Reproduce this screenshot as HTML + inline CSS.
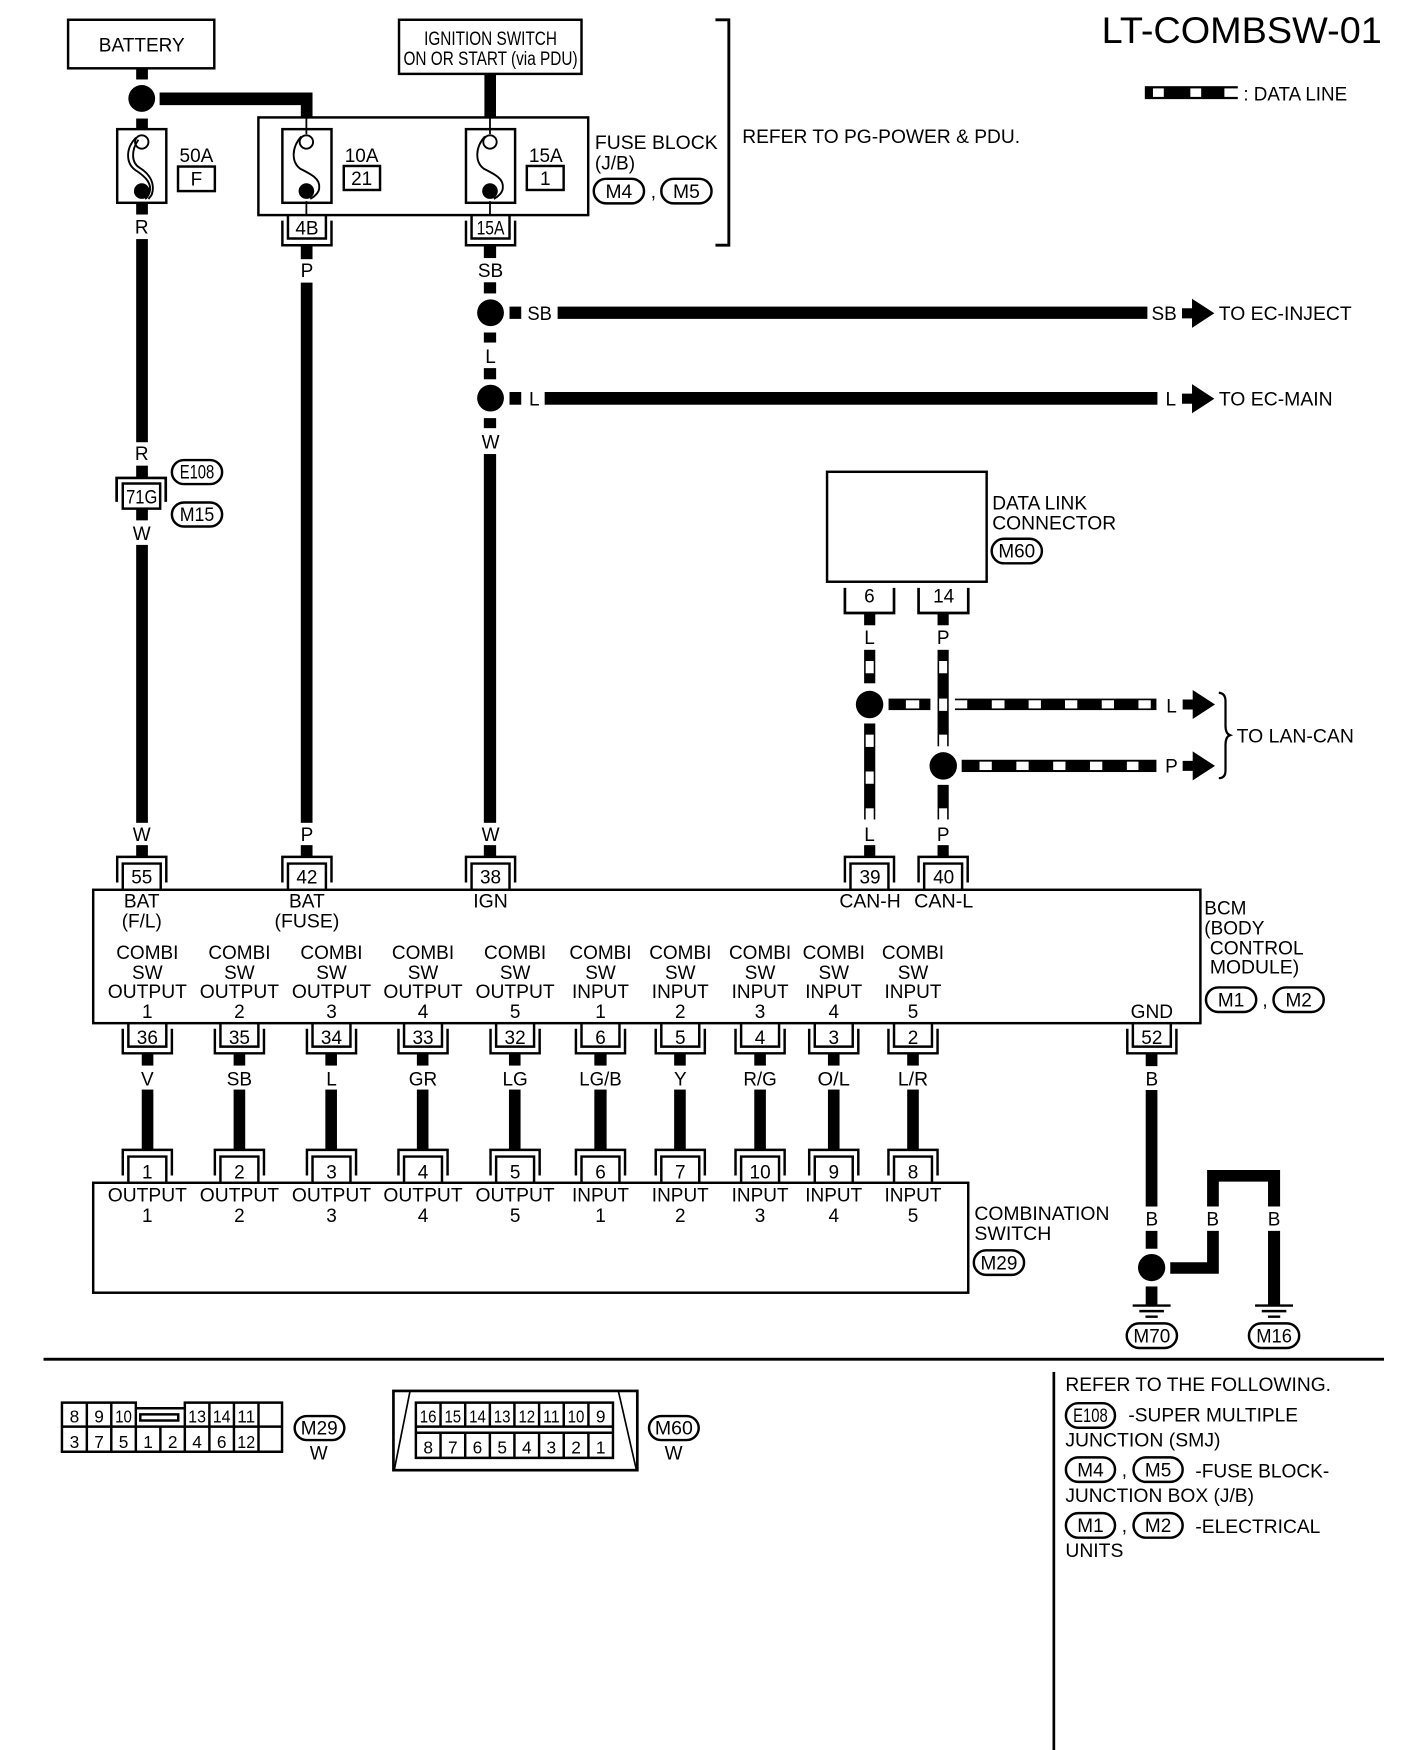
<!DOCTYPE html>
<html lang="en"><head><meta charset="utf-8"><title>LT-COMBSW-01</title>
<style>
html,body{margin:0;padding:0;background:#fff}
svg{display:block}
text{font-family:"Liberation Sans",Arial,sans-serif;font-size:17px;fill:#000;stroke:none}
.m{text-anchor:middle}
.n{font-size:15.5px}
.o{fill:#fff;stroke:#000;stroke-width:2.2}
.b{fill:none;stroke:#000;stroke-width:2.2}
.w{fill:#fff}
</style></head><body>
<svg xmlns="http://www.w3.org/2000/svg" width="1408" height="1750" viewBox="0 0 1261.5 1567.5">
<defs>
<g id="ua"><path class="b" stroke-width="2.4" d="M-22,5V27H22V5M-17,0V21H17V0"/></g>
<g id="ub"><path class="b" stroke-width="2.4" d="M-22,-6V-29H22V-6M-17,0V-23H17V0"/></g>
<g id="ah"><path d="M0,-4.5H9V-13L29,0L9,13V4.5H0Z"/></g>
<g id="gnd"><path class="b" d="M-17,0H17M-11,5H11M-5.5,10H5.5"/></g>
</defs>
<rect width="1261.5" height="1567.5" fill="#fff"/>

<!-- title -->
<text x="987" y="38.5" style="font-size:33px" textLength="251" lengthAdjust="spacingAndGlyphs">LT-COMBSW-01</text>
<rect x="1025.7" y="77" width="83.3" height="11.6"/>
<rect x="1033" y="79" width="9.7" height="7.6" class="w"/><rect x="1066.5" y="79" width="9.7" height="7.6" class="w"/><rect x="1097" y="79" width="13" height="7.6" class="w"/>
<text x="1114" y="90" textLength="93" lengthAdjust="spacingAndGlyphs">: DATA LINE</text>

<!-- top boxes -->
<rect x="61" y="17.5" width="131" height="43.5" class="o"/>
<text x="127" y="46" class="m" textLength="77" lengthAdjust="spacingAndGlyphs">BATTERY</text>
<rect x="357.5" y="17.5" width="163.5" height="48.5" class="o"/>
<text x="439.5" y="40" class="m" textLength="119" lengthAdjust="spacingAndGlyphs">IGNITION SWITCH</text>
<text x="439.5" y="58" class="m" textLength="156" lengthAdjust="spacingAndGlyphs">ON OR START (via PDU)</text>

<!-- battery wires -->
<rect x="122" y="61" width="10.5" height="10"/>
<circle cx="127" cy="88" r="12"/>
<rect x="122" y="106" width="10.5" height="9"/>
<path d="M143,82.7H280V105H269.5V94H143Z"/>
<rect x="434" y="66" width="10.4" height="39"/>

<!-- fuse block -->
<rect x="231.5" y="105" width="295.5" height="87.5" class="o"/>
<text x="533" y="133.5" textLength="110" lengthAdjust="spacingAndGlyphs">FUSE BLOCK</text>
<text x="533" y="151.5" textLength="36" lengthAdjust="spacingAndGlyphs">(J/B)</text>
<rect x="532" y="160" width="45" height="22" rx="11" class="o"/><text x="554.5" y="177" class="m" textLength="24" lengthAdjust="spacingAndGlyphs">M4</text>
<text x="583" y="177">,</text>
<rect x="592.5" y="160" width="45" height="22" rx="11" class="o"/><text x="615" y="177" class="m" textLength="24" lengthAdjust="spacingAndGlyphs">M5</text>

<path class="b" d="M641,17.5H653V219.5H641" style="stroke-width:2.6"/>
<text x="665" y="128" textLength="249" lengthAdjust="spacingAndGlyphs">REFER TO PG-POWER &amp; PDU.</text>

<!-- fuses -->
<rect x="105" y="115.5" width="44" height="66" class="o"/>
<rect x="253" y="115.5" width="44" height="66" class="o"/>
<rect x="417.5" y="115.5" width="44" height="66" class="o"/>
<path class="b" stroke-width="1.6" d="M274.5,105V120M274.5,180V192.5M439,105V120M439,180V192.5" style="stroke-width:1.6"/>
<g class="b" style="stroke-width:1.7">
<circle cx="127" cy="127" r="6"/><circle cx="274.5" cy="127" r="6"/><circle cx="439" cy="127" r="6"/>
<path d="M122,123C112,133 113,146 121,152C132,159 136,165 134,172C133,175 132,177 130,178"/>
<path d="M124,125C117,135 118,146 125,150C135,156 139,165 136,174C135,176 134,177 133,178"/>
<path d="M270,122C261,132 261,145 269,151C279,156 287,160 286,168C286,172 282,176 278,178"/>
<path d="M434.5,122C425.5,132 425.5,145 433.5,151C443.5,156 451.5,160 450.5,168C450.5,172 446.5,176 442.5,178"/>
</g>
<circle cx="127" cy="171" r="7"/><circle cx="274.5" cy="171" r="7"/><circle cx="439" cy="171" r="7"/>
<text x="176" y="145" class="m">50A</text><rect x="159.5" y="149" width="33" height="22" class="o"/><text x="176" y="166" class="m">F</text>
<text x="324" y="145" class="m">10A</text><rect x="308" y="148.5" width="32.5" height="21.5" class="o"/><text x="324" y="165.5" class="m">21</text>
<text x="489" y="145" class="m">15A</text><rect x="472" y="148.5" width="33" height="21.5" class="o"/><text x="488.5" y="165.5" class="m">1</text>

<use href="#ua" x="275" y="192.5"/><text x="275" y="210" class="m">4B</text>
<use href="#ua" x="439.5" y="192.5"/><text x="439.5" y="210" class="m" textLength="25" lengthAdjust="spacingAndGlyphs">15A</text>

<!-- R wire -->
<rect x="122" y="181.5" width="10.5" height="10.5"/>
<text x="127" y="209" class="m">R</text>
<rect x="122" y="214" width="10.5" height="182"/>
<text x="127" y="412" class="m">R</text>
<rect x="122" y="417" width="10.5" height="11"/>
<path class="b" style="stroke-width:2.4" d="M104.5,449.5V428H148.5V449.5"/>
<rect x="110" y="433" width="33.5" height="22.5" class="o"/>
<text x="127" y="451" class="m" textLength="28" lengthAdjust="spacingAndGlyphs">71G</text>
<rect x="122" y="455.5" width="10.5" height="10.5"/>
<text x="127" y="483.5" class="m">W</text>
<rect x="122" y="488" width="10.5" height="249"/>
<rect x="154" y="412" width="45" height="21.5" rx="10.75" class="o"/><text x="176.5" y="428.5" class="m" textLength="31" lengthAdjust="spacingAndGlyphs">E108</text>
<rect x="154" y="450" width="45" height="21.5" rx="10.75" class="o"/><text x="176.5" y="466.5" class="m" textLength="31" lengthAdjust="spacingAndGlyphs">M15</text>

<!-- P wire -->
<rect x="269.5" y="220" width="10.5" height="12"/>
<text x="275" y="248" class="m">P</text>
<rect x="269.5" y="253" width="10.5" height="484"/>

<!-- SB/L/W column -->
<rect x="433.5" y="220" width="11" height="11"/>
<text x="439.5" y="248" class="m">SB</text>
<rect x="433.5" y="252.7" width="11" height="10"/>
<circle cx="439.5" cy="280" r="12"/>
<rect x="433.5" y="297.7" width="11" height="9"/>
<text x="439.5" y="325" class="m">L</text>
<rect x="433.5" y="329.6" width="11" height="10"/>
<circle cx="439.5" cy="356.5" r="12"/>
<rect x="433.5" y="374.4" width="11" height="9"/>
<text x="439.5" y="401.5" class="m">W</text>
<rect x="433.5" y="406.6" width="11" height="330.4"/>

<rect x="456.500" y="274.5" width="10.5" height="11"/>
<text x="472.500" y="286.5" textLength="22" lengthAdjust="spacingAndGlyphs">SB</text>
<rect x="499.6" y="274.5" width="528.4" height="11"/>
<text x="1043" y="286.5" class="m">SB</text>
<use href="#ah" x="1059" y="280.5"/>
<text x="1092" y="286.5" textLength="119" lengthAdjust="spacingAndGlyphs">TO EC-INJECT</text>

<rect x="456.500" y="351" width="10.5" height="11.4"/>
<text x="474" y="363">L</text>
<rect x="488" y="351" width="549" height="11.4"/>
<text x="1049" y="363" class="m">L</text>
<use href="#ah" x="1059" y="357"/>
<text x="1092" y="363" textLength="102" lengthAdjust="spacingAndGlyphs">TO EC-MAIN</text>

<!-- DLC -->
<rect x="741" y="422.5" width="143" height="98.5" class="o"/>
<text x="889" y="456.5" textLength="85" lengthAdjust="spacingAndGlyphs">DATA LINK</text>
<text x="889" y="474" textLength="111" lengthAdjust="spacingAndGlyphs">CONNECTOR</text>
<rect x="888.500" y="482.5" width="45" height="22" rx="11" class="o"/><text x="911" y="499.5" class="m" textLength="33" lengthAdjust="spacingAndGlyphs">M60</text>
<path class="b" style="stroke-width:2.4" d="M757,526.5V549H801V526.5M823,526.5V549H867.5V526.5"/>
<text x="779" y="539.5" class="m">6</text><text x="845.5" y="539.5" class="m">14</text>

<!-- data wires vertical -->
<g transform="translate(0.6,0)">
<rect x="773.6" y="549" width="10" height="11"/><rect x="839.4" y="549" width="10" height="11"/>
<text x="778.5" y="577" class="m">L</text><text x="844.5" y="577" class="m">P</text>
<rect x="773.6" y="582" width="10" height="30"/>
<rect x="775" y="592" width="7.2" height="11" class="w"/>
<circle cx="778.5" cy="631" r="12.3"/>
<rect x="773.6" y="648" width="10" height="86"/>
<rect x="775" y="658" width="7.2" height="11" class="w"/><rect x="775" y="691" width="7.2" height="11" class="w"/><rect x="775" y="724" width="7.2" height="11" class="w"/>
<rect x="839.4" y="582" width="10" height="86.4"/>
<rect x="840.8" y="592" width="7.2" height="11" class="w"/><rect x="840.8" y="625.7" width="7.2" height="11" class="w"/><rect x="840.8" y="658" width="7.2" height="11" class="w"/>
<circle cx="844.5" cy="686" r="12.3"/>
<rect x="839.4" y="703" width="10" height="31"/>
<rect x="840.8" y="724" width="7.2" height="11" class="w"/>
<text x="778.5" y="753.5" class="m">L</text><text x="844.5" y="753.5" class="m">P</text>

<!-- data wires horizontal -->
<rect x="795.5" y="625.7" width="37.5" height="10.3"/><rect x="811" y="627.2" width="12" height="7.3" class="w"/>
<rect x="855" y="625.7" width="180.5" height="10.3"/>
<rect x="854" y="627.2" width="12" height="7.3" class="w"/><rect x="888" y="627.2" width="11.4" height="7.3" class="w"/><rect x="921" y="627.2" width="11" height="7.3" class="w"/><rect x="953.6" y="627.2" width="11" height="7.3" class="w"/><rect x="986.5" y="627.2" width="11" height="7.3" class="w"/><rect x="1019.4" y="627.2" width="11" height="7.3" class="w"/>
<rect x="861" y="680.5" width="174.5" height="11"/>
<rect x="877" y="682.2" width="11" height="7.5" class="w"/><rect x="910" y="682.2" width="11" height="7.5" class="w"/><rect x="943" y="682.2" width="11" height="7.5" class="w"/><rect x="976" y="682.2" width="11" height="7.5" class="w"/><rect x="1009" y="682.2" width="10.4" height="7.5" class="w"/>
<text x="1049" y="638" class="m">L</text><text x="1049" y="692" class="m">P</text>
<use href="#ah" x="1059" y="631"/><use href="#ah" x="1059" y="686"/>
</g>
<path class="b" style="stroke-width:2" d="M1092,620.5Q1098,621 1098,628V650Q1098,657 1102,658.5Q1098,660 1098,667V690Q1098,697 1092,697"/>
<text x="1108" y="665" textLength="105" lengthAdjust="spacingAndGlyphs">TO LAN-CAN</text>

<!-- wires into BCM labels -->
<text x="127" y="753.5" class="m">W</text><text x="275" y="753.5" class="m">P</text><text x="439.5" y="753.5" class="m">W</text>
<rect x="122" y="757" width="10.5" height="10.5"/><rect x="269.5" y="757" width="10.5" height="10.5"/><rect x="433.5" y="757" width="11" height="10.5"/><rect x="774.2" y="757" width="10" height="10.5"/><rect x="840" y="757" width="10" height="10.5"/>

<!-- BCM -->
<rect x="83.5" y="797" width="992" height="119.5" class="o"/>
<g>
<use href="#ub" x="127" y="796.5"/><use href="#ub" x="275" y="796.5"/><use href="#ub" x="439.5" y="796.5"/><use href="#ub" x="779" y="796.5"/><use href="#ub" x="845" y="796.5"/>
</g>
<g class="m">
<text x="127" y="791.5" class="m">55</text><text x="275" y="791.5" class="m">42</text><text x="439.5" y="791.5" class="m">38</text><text x="779.5" y="791.5" class="m">39</text><text x="845.5" y="791.5" class="m">40</text>
<text x="127" y="813" class="m" textLength="32" lengthAdjust="spacingAndGlyphs">BAT</text><text x="127" y="831" class="m">(F/L)</text>
<text x="275" y="813" class="m" textLength="32" lengthAdjust="spacingAndGlyphs">BAT</text><text x="275" y="831" class="m" textLength="58" lengthAdjust="spacingAndGlyphs">(FUSE)</text>
<text x="439.5" y="813" class="m" textLength="31" lengthAdjust="spacingAndGlyphs">IGN</text>
<text x="779.5" y="813" class="m" textLength="55" lengthAdjust="spacingAndGlyphs">CAN-H</text><text x="845.5" y="813" class="m" textLength="53" lengthAdjust="spacingAndGlyphs">CAN-L</text>
</g>
<text x="132" y="859" class="m">COMBI</text><text x="132" y="877" class="m">SW</text><text x="132" y="894" class="m" textLength="71" lengthAdjust="spacingAndGlyphs">OUTPUT</text><text x="132" y="912" class="m">1</text>
<text x="214.5" y="859" class="m">COMBI</text><text x="214.5" y="877" class="m">SW</text><text x="214.5" y="894" class="m" textLength="71" lengthAdjust="spacingAndGlyphs">OUTPUT</text><text x="214.5" y="912" class="m">2</text>
<text x="297" y="859" class="m">COMBI</text><text x="297" y="877" class="m">SW</text><text x="297" y="894" class="m" textLength="71" lengthAdjust="spacingAndGlyphs">OUTPUT</text><text x="297" y="912" class="m">3</text>
<text x="379" y="859" class="m">COMBI</text><text x="379" y="877" class="m">SW</text><text x="379" y="894" class="m" textLength="71" lengthAdjust="spacingAndGlyphs">OUTPUT</text><text x="379" y="912" class="m">4</text>
<text x="461.500" y="859" class="m">COMBI</text><text x="461.500" y="877" class="m">SW</text><text x="461.500" y="894" class="m" textLength="71" lengthAdjust="spacingAndGlyphs">OUTPUT</text><text x="461.500" y="912" class="m">5</text>
<text x="538" y="859" class="m">COMBI</text><text x="538" y="877" class="m">SW</text><text x="538" y="894" class="m" textLength="51" lengthAdjust="spacingAndGlyphs">INPUT</text><text x="538" y="912" class="m">1</text>
<text x="609.5" y="859" class="m">COMBI</text><text x="609.5" y="877" class="m">SW</text><text x="609.5" y="894" class="m" textLength="51" lengthAdjust="spacingAndGlyphs">INPUT</text><text x="609.5" y="912" class="m">2</text>
<text x="681" y="859" class="m">COMBI</text><text x="681" y="877" class="m">SW</text><text x="681" y="894" class="m" textLength="51" lengthAdjust="spacingAndGlyphs">INPUT</text><text x="681" y="912" class="m">3</text>
<text x="747" y="859" class="m">COMBI</text><text x="747" y="877" class="m">SW</text><text x="747" y="894" class="m" textLength="51" lengthAdjust="spacingAndGlyphs">INPUT</text><text x="747" y="912" class="m">4</text>
<text x="818" y="859" class="m">COMBI</text><text x="818" y="877" class="m">SW</text><text x="818" y="894" class="m" textLength="51" lengthAdjust="spacingAndGlyphs">INPUT</text><text x="818" y="912" class="m">5</text>
<text x="1032" y="912" class="m" textLength="38" lengthAdjust="spacingAndGlyphs">GND</text>

<text x="1079" y="819">BCM</text><text x="1079" y="837">(BODY</text>
<text x="1084" y="855" textLength="84" lengthAdjust="spacingAndGlyphs">CONTROL</text><text x="1084" y="872" textLength="80" lengthAdjust="spacingAndGlyphs">MODULE)</text>
<rect x="1080.5" y="884.5" width="45" height="22" rx="11" class="o"/><text x="1103" y="901.5" class="m">M1</text>
<text x="1131" y="901.5">,</text>
<rect x="1141" y="884.5" width="45" height="22" rx="11" class="o"/><text x="1163.5" y="901.5" class="m">M2</text>

<!-- lower connectors and wires -->
<use href="#ua" x="132" y="916.5"/><use href="#ua" x="214.5" y="916.5"/><use href="#ua" x="297" y="916.5"/><use href="#ua" x="379" y="916.5"/><use href="#ua" x="461.500" y="916.5"/><use href="#ua" x="538" y="916.5"/><use href="#ua" x="609.5" y="916.5"/><use href="#ua" x="681" y="916.5"/><use href="#ua" x="747" y="916.5"/><use href="#ua" x="818" y="916.5"/><use href="#ua" x="1032" y="916.5"/>
<text x="132" y="935" class="m">36</text><text x="214.5" y="935" class="m">35</text><text x="297" y="935" class="m">34</text><text x="379" y="935" class="m">33</text><text x="461.500" y="935" class="m">32</text><text x="538" y="935" class="m">6</text><text x="609.5" y="935" class="m">5</text><text x="681" y="935" class="m">4</text><text x="747" y="935" class="m">3</text><text x="818" y="935" class="m">2</text><text x="1032" y="935" class="m">52</text>
<g>
<rect x="127" y="943.5" width="10.4" height="11"/><rect x="127" y="976" width="10.4" height="54"/>
<rect x="209.3" y="943.5" width="10.4" height="11"/><rect x="209.3" y="976" width="10.4" height="54"/>
<rect x="291.5" y="943.5" width="10.4" height="11"/><rect x="291.5" y="976" width="10.4" height="54"/>
<rect x="373.5" y="943.5" width="10.4" height="11"/><rect x="373.5" y="976" width="10.4" height="54"/>
<rect x="456" y="943.5" width="10.4" height="11"/><rect x="456" y="976" width="10.4" height="54"/>
<rect x="532.5" y="943.5" width="11" height="11"/><rect x="532.5" y="976" width="11" height="54"/>
<rect x="604" y="943.5" width="10.4" height="11"/><rect x="604" y="976" width="10.4" height="54"/>
<rect x="675.8" y="943.5" width="10.4" height="11"/><rect x="675.8" y="976" width="10.4" height="54"/>
<rect x="741.8" y="943.5" width="10.4" height="11"/><rect x="741.8" y="976" width="10.4" height="54"/>
<rect x="812.8" y="943.5" width="10.4" height="11"/><rect x="812.8" y="976" width="10.4" height="54"/>
</g>
<text x="132" y="972.5" class="m">V</text><text x="214.5" y="972.5" class="m">SB</text><text x="297" y="972.5" class="m">L</text><text x="379" y="972.5" class="m">GR</text><text x="461.500" y="972.5" class="m">LG</text><text x="538" y="972.5" class="m" textLength="38" lengthAdjust="spacingAndGlyphs">LG/B</text><text x="609.5" y="972.5" class="m">Y</text><text x="681" y="972.5" class="m" textLength="30" lengthAdjust="spacingAndGlyphs">R/G</text><text x="747" y="972.5" class="m" textLength="29" lengthAdjust="spacingAndGlyphs">O/L</text><text x="818" y="972.5" class="m" textLength="27" lengthAdjust="spacingAndGlyphs">L/R</text>

<!-- combination switch -->
<rect x="83.5" y="1059.5" width="784" height="98.5" class="o"/>
<use href="#ub" x="132" y="1059"/><use href="#ub" x="214.5" y="1059"/><use href="#ub" x="297" y="1059"/><use href="#ub" x="379" y="1059"/><use href="#ub" x="461.500" y="1059"/><use href="#ub" x="538" y="1059"/><use href="#ub" x="609.5" y="1059"/><use href="#ub" x="681" y="1059"/><use href="#ub" x="747" y="1059"/><use href="#ub" x="818" y="1059"/>
<text x="132" y="1055.5" class="m">1</text><text x="214.5" y="1055.5" class="m">2</text><text x="297" y="1055.5" class="m">3</text><text x="379" y="1055.5" class="m">4</text><text x="461.500" y="1055.5" class="m">5</text><text x="538" y="1055.5" class="m">6</text><text x="609.5" y="1055.5" class="m">7</text><text x="681" y="1055.5" class="m">10</text><text x="747" y="1055.5" class="m">9</text><text x="818" y="1055.5" class="m">8</text>
<text x="132" y="1076.5" class="m" textLength="71" lengthAdjust="spacingAndGlyphs">OUTPUT</text><text x="132" y="1094.5" class="m">1</text>
<text x="214.5" y="1076.5" class="m" textLength="71" lengthAdjust="spacingAndGlyphs">OUTPUT</text><text x="214.5" y="1094.5" class="m">2</text>
<text x="297" y="1076.5" class="m" textLength="71" lengthAdjust="spacingAndGlyphs">OUTPUT</text><text x="297" y="1094.5" class="m">3</text>
<text x="379" y="1076.5" class="m" textLength="71" lengthAdjust="spacingAndGlyphs">OUTPUT</text><text x="379" y="1094.5" class="m">4</text>
<text x="461.500" y="1076.5" class="m" textLength="71" lengthAdjust="spacingAndGlyphs">OUTPUT</text><text x="461.500" y="1094.5" class="m">5</text>
<text x="538" y="1076.5" class="m" textLength="51" lengthAdjust="spacingAndGlyphs">INPUT</text><text x="538" y="1094.5" class="m">1</text>
<text x="609.5" y="1076.5" class="m" textLength="51" lengthAdjust="spacingAndGlyphs">INPUT</text><text x="609.5" y="1094.5" class="m">2</text>
<text x="681" y="1076.5" class="m" textLength="51" lengthAdjust="spacingAndGlyphs">INPUT</text><text x="681" y="1094.5" class="m">3</text>
<text x="747" y="1076.5" class="m" textLength="51" lengthAdjust="spacingAndGlyphs">INPUT</text><text x="747" y="1094.5" class="m">4</text>
<text x="818" y="1076.5" class="m" textLength="51" lengthAdjust="spacingAndGlyphs">INPUT</text><text x="818" y="1094.5" class="m">5</text>
<text x="873" y="1093" textLength="121" lengthAdjust="spacingAndGlyphs">COMBINATION</text>
<text x="873" y="1111" textLength="69" lengthAdjust="spacingAndGlyphs">SWITCH</text>
<rect x="872.5" y="1120" width="45" height="22" rx="11" class="o"/><text x="895" y="1137" class="m" textLength="33" lengthAdjust="spacingAndGlyphs">M29</text>

<!-- ground wires -->
<g transform="translate(1.5,1)">
<rect x="1025" y="943" width="10.5" height="11"/>
<text x="1030.5" y="971.5" class="m">B</text>
<rect x="1025" y="975.4" width="10.5" height="104.4"/>
<text x="1030.5" y="1097" class="m">B</text>
<rect x="1025" y="1101.6" width="10.5" height="16"/>
<circle cx="1030.3" cy="1134.5" r="12.2"/>
<rect x="1025" y="1151.4" width="10.5" height="16.6"/>
<path d="M1047,1129.7H1080V1101.6H1090.5V1140H1047Z"/>
<path d="M1080,1079.8V1047H1145.4V1079.8H1134.6V1057.5H1090.5V1079.8Z"/>
<rect x="1134.6" y="1101.6" width="10.8" height="66.4"/>
<text x="1085" y="1097" class="m">B</text><text x="1140" y="1097" class="m">B</text>
<use href="#gnd" x="1030.3" y="1168.5"/><use href="#gnd" x="1140" y="1168.5"/>
<rect x="1008" y="1184.5" width="45" height="22" rx="11" class="o"/><text x="1030.5" y="1201.5" class="m" textLength="33" lengthAdjust="spacingAndGlyphs">M70</text>
<rect x="1117.5" y="1184.5" width="45" height="22" rx="11" class="o"/><text x="1140" y="1201.5" class="m" textLength="32" lengthAdjust="spacingAndGlyphs">M16</text>
</g>

<!-- separators -->
<rect x="39" y="1216.3" width="1201" height="2.6"/>
<rect x="943" y="1229" width="2.4" height="340"/>

<g transform="translate(0,1)">
<!-- M29 connector -->
<path class="b" style="stroke-width:2.2" d="M55.5,1255.5H121.7V1260.5H165.6V1255.5H252.7V1299.5H55.5ZM55.5,1277H252.7M77.8,1255.5V1299.5M99.7,1255.5V1299.5M121.7,1255.5V1299.5M143.7,1277V1299.5M165.6,1255.5V1299.5M187.6,1255.5V1299.5M209.6,1255.5V1299.5M231.6,1255.5V1299.5"/>
<rect x="125.7" y="1266" width="34" height="5.5" class="o"/>
<g class="n">
<text class="m n" x="66.7" y="1273.5">8</text><text class="m n" x="88.7" y="1273.5">9</text><text class="m n" x="110.7" y="1273.5" textLength="15" lengthAdjust="spacingAndGlyphs">10</text>
<text class="m n" x="176.6" y="1273.5" textLength="16" lengthAdjust="spacingAndGlyphs">13</text><text class="m n" x="198.6" y="1273.5" textLength="16" lengthAdjust="spacingAndGlyphs">14</text><text class="m n" x="220.6" y="1273.5" textLength="16" lengthAdjust="spacingAndGlyphs">11</text>
<text class="m n" x="66.7" y="1296">3</text><text class="m n" x="88.7" y="1296">7</text><text class="m n" x="110.7" y="1296">5</text><text class="m n" x="132.7" y="1296">1</text><text class="m n" x="154.7" y="1296">2</text><text class="m n" x="176.6" y="1296">4</text><text class="m n" x="198.6" y="1296">6</text><text class="m n" x="220.6" y="1296" textLength="16" lengthAdjust="spacingAndGlyphs">12</text>
</g>
<rect x="264" y="1267.5" width="44.5" height="21.5" rx="10.75" class="o"/><text x="286" y="1284" class="m" textLength="33" lengthAdjust="spacingAndGlyphs">M29</text>
<text x="285.5" y="1306.5" class="m">W</text>

<!-- M60 connector -->
<rect x="352.5" y="1245" width="218.5" height="71" class="o" style="stroke-width:2.4"/>
<path class="b" style="stroke-width:1.5" d="M367.4,1245L353.4,1315M554,1245L570,1315"/>
<path class="b" style="stroke-width:2.2" d="M372.6,1255.5H549.2V1305H372.6ZM372.6,1277H549.2M372.6,1282.5H549.2M394.7,1255.5V1277M416.8,1255.5V1277M438.9,1255.5V1277M460.9,1255.5V1277M483,1255.5V1277M505.1,1255.5V1277M527.2,1255.5V1277M394.7,1282.5V1305M416.8,1282.5V1305M438.9,1282.5V1305M460.9,1282.5V1305M483,1282.5V1305M505.1,1282.5V1305M527.2,1282.5V1305"/>
<text class="m n" x="383.6" y="1273.5" textLength="15" lengthAdjust="spacingAndGlyphs">16</text><text class="m n" x="405.7" y="1273.5" textLength="15" lengthAdjust="spacingAndGlyphs">15</text><text class="m n" x="427.8" y="1273.5" textLength="15" lengthAdjust="spacingAndGlyphs">14</text><text class="m n" x="449.9" y="1273.5" textLength="15" lengthAdjust="spacingAndGlyphs">13</text><text class="m n" x="472" y="1273.5" textLength="15" lengthAdjust="spacingAndGlyphs">12</text><text class="m n" x="494" y="1273.5" textLength="15" lengthAdjust="spacingAndGlyphs">11</text><text class="m n" x="516.1" y="1273.5" textLength="15" lengthAdjust="spacingAndGlyphs">10</text><text class="m n" x="538.2" y="1273.5">9</text>
<text class="m n" x="383.6" y="1301">8</text><text class="m n" x="405.7" y="1301">7</text><text class="m n" x="427.8" y="1301">6</text><text class="m n" x="449.9" y="1301">5</text><text class="m n" x="472" y="1301">4</text><text class="m n" x="494" y="1301">3</text><text class="m n" x="516.1" y="1301">2</text><text class="m n" x="538.2" y="1301">1</text>
<rect x="581.5" y="1267.5" width="44.5" height="21.5" rx="10.75" class="o"/><text x="603.8" y="1284" class="m" textLength="34" lengthAdjust="spacingAndGlyphs">M60</text>
<text x="603.5" y="1306.5" class="m">W</text>
</g>

<!-- references -->
<text x="954.5" y="1246" textLength="238" lengthAdjust="spacingAndGlyphs">REFER TO THE FOLLOWING.</text>
<rect x="955" y="1257" width="44" height="22" rx="11" class="o"/><text x="977" y="1274" class="m" textLength="31" lengthAdjust="spacingAndGlyphs">E108</text>
<text x="1011" y="1273.500" textLength="152" lengthAdjust="spacingAndGlyphs">-SUPER MULTIPLE</text>
<text x="954.5" y="1296" textLength="139" lengthAdjust="spacingAndGlyphs">JUNCTION (SMJ)</text>
<rect x="955" y="1305.5" width="44" height="22" rx="11" class="o"/><text x="977" y="1322.5" class="m">M4</text>
<text x="1005" y="1322.5">,</text>
<rect x="1015.6" y="1305.5" width="44" height="22" rx="11" class="o"/><text x="1037.6" y="1322.5" class="m">M5</text>
<text x="1071" y="1323.5" textLength="120" lengthAdjust="spacingAndGlyphs">-FUSE BLOCK-</text>
<text x="954.5" y="1345.5" textLength="169" lengthAdjust="spacingAndGlyphs">JUNCTION BOX (J/B)</text>
<rect x="955" y="1355.5" width="44" height="22" rx="11" class="o"/><text x="977" y="1372.5" class="m">M1</text>
<text x="1005" y="1372.5">,</text>
<rect x="1015.6" y="1355.5" width="44" height="22" rx="11" class="o"/><text x="1037.6" y="1372.5" class="m">M2</text>
<text x="1071" y="1373.5" textLength="112" lengthAdjust="spacingAndGlyphs">-ELECTRICAL</text>
<text x="954.5" y="1395" textLength="52" lengthAdjust="spacingAndGlyphs">UNITS</text>
</svg>
</body></html>
